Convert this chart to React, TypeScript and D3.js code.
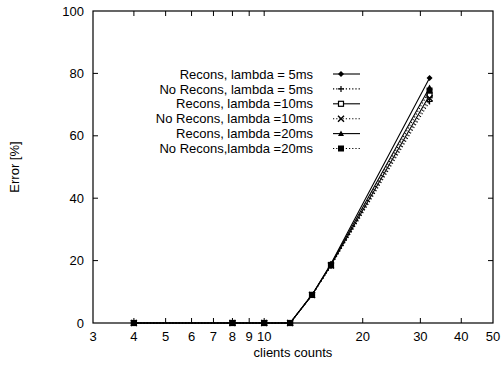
import React, { useRef, useEffect } from "react";
import * as d3 from "d3";

// clients counts (x) shared by every series
const clients = [4, 8, 10, 12, 14, 16, 32];

const seriesNames = [
  "Recons, lambda = 5ms",
  "No Recons, lambda = 5ms",
  "Recons, lambda =10ms",
  "No Recons, lambda =10ms",
  "Recons, lambda =20ms",
  "No Recons,lambda =20ms",
];

const recons5 = [0, 0, 0, 0, 9, 19, 78.5];
const noRecons5 = [0, 0, 0, 0, 9, 18.3, 71];
const recons10 = [0, 0, 0, 0, 9, 18.6, 73];
const noRecons10 = [0, 0, 0, 0, 9, 18.4, 72];
const recons20 = [0, 0, 0, 0, 9, 18.8, 75.5];
const noRecons20 = [0, 0, 0, 0, 9, 18.5, 74.5];

const seriesValues = [recons5, noRecons5, recons10, noRecons10, recons20, noRecons20];
const markers = ["diamond", "plus", "square-open", "cross", "triangle", "square"];
const dotted = [false, true, false, true, false, true];

const xTicks = [3, 4, 5, 6, 7, 8, 9, 10, 20, 30, 40, 50];
const yTicks = [0, 20, 40, 60, 80, 100];

const App: React.FC = () => {
  const svgRef = useRef<SVGSVGElement>(null);

  useEffect(() => {
    const width = 501;
    const height = 366;
    const margin = { top: 11, right: 8, bottom: 43, left: 93 };
    const iw = width - margin.left - margin.right;
    const ih = height - margin.top - margin.bottom;
    const font = "'Liberation Sans', Arial, sans-serif";

    const root = d3.select(svgRef.current);
    root.selectAll("*").remove();
    root.attr("width", width).attr("height", height);
    root.append("rect").attr("width", width).attr("height", height).attr("fill", "#fff");

    const g = root.append("g").attr("transform", `translate(${margin.left},${margin.top})`);

    const x = d3.scaleLog().domain([3, 50]).range([0, iw]);
    const y = d3.scaleLinear().domain([0, 100]).range([ih, 0]);

    // frame
    g.append("rect")
      .attr("width", iw)
      .attr("height", ih)
      .attr("fill", "none")
      .attr("stroke", "#000")
      .attr("stroke-width", 1.2);

    const tickLen = 5;

    // y ticks (mirrored on right)
    yTicks.forEach(t => {
      const yy = y(t);
      if (t !== 0 && t !== 100) {
        g.append("line").attr("x1", 0).attr("x2", tickLen).attr("y1", yy).attr("y2", yy).attr("stroke", "#000");
        g.append("line").attr("x1", iw).attr("x2", iw - tickLen).attr("y1", yy).attr("y2", yy).attr("stroke", "#000");
      }
      g.append("text")
        .attr("x", -9)
        .attr("y", yy)
        .attr("dy", "0.36em")
        .attr("text-anchor", "end")
        .attr("font-family", font)
        .attr("font-size", 13)
        .text(t);
    });

    // x ticks (mirrored on top)
    xTicks.forEach(t => {
      const xx = x(t);
      if (t !== 3 && t !== 50) {
        g.append("line").attr("x1", xx).attr("x2", xx).attr("y1", ih).attr("y2", ih - tickLen).attr("stroke", "#000");
        g.append("line").attr("x1", xx).attr("x2", xx).attr("y1", 0).attr("y2", tickLen).attr("stroke", "#000");
      }
      g.append("text")
        .attr("x", xx)
        .attr("y", ih + 18)
        .attr("text-anchor", "middle")
        .attr("font-family", font)
        .attr("font-size", 13)
        .text(t);
    });

    // axis titles
    g.append("text")
      .attr("x", iw / 2)
      .attr("y", ih + 34)
      .attr("text-anchor", "middle")
      .attr("font-family", font)
      .attr("font-size", 13)
      .text("clients counts");

    root.append("text")
      .attr("transform", `translate(19,${margin.top + ih / 2}) rotate(-90)`)
      .attr("text-anchor", "middle")
      .attr("font-family", font)
      .attr("font-size", 13)
      .text("Error [%]");

    const drawMarker = (sel: d3.Selection<SVGGElement, unknown, null, undefined>, kind: string, cx: number, cy: number) => {
      const s = 3;
      if (kind === "diamond") {
        sel.append("path").attr("d", `M${cx},${cy - s} L${cx + s},${cy} L${cx},${cy + s} L${cx - s},${cy} Z`).attr("fill", "#000");
      } else if (kind === "plus") {
        sel.append("path").attr("d", `M${cx - s},${cy} H${cx + s} M${cx},${cy - s} V${cy + s}`).attr("stroke", "#000").attr("stroke-width", 1.2);
      } else if (kind === "square-open") {
        sel.append("rect").attr("x", cx - s + 0.5).attr("y", cy - s + 0.5).attr("width", 2 * s - 1).attr("height", 2 * s - 1)
          .attr("fill", "#fff").attr("stroke", "#000").attr("stroke-width", 1.2);
      } else if (kind === "cross") {
        sel.append("path").attr("d", `M${cx - s},${cy - s} L${cx + s},${cy + s} M${cx - s},${cy + s} L${cx + s},${cy - s}`)
          .attr("stroke", "#000").attr("stroke-width", 1.4);
      } else if (kind === "triangle") {
        sel.append("path").attr("d", `M${cx},${cy - s} L${cx + s},${cy + s * 0.8} L${cx - s},${cy + s * 0.8} Z`).attr("fill", "#000");
      } else {
        sel.append("rect").attr("x", cx - s).attr("y", cy - s).attr("width", 2 * s).attr("height", 2 * s).attr("fill", "#000");
      }
    };

    const line = d3.line<number>()
      .x((_, i) => x(clients[i]))
      .y(d => y(d));

    // series
    seriesValues.forEach((vals, si) => {
      const sg = g.append("g");
      sg.append("path")
        .attr("d", line(vals) || "")
        .attr("fill", "none")
        .attr("stroke", "#000")
        .attr("stroke-width", 1.1)
        .attr("stroke-dasharray", dotted[si] ? "1.2,2" : null);
      vals.forEach((v, i) => drawMarker(sg, markers[si], x(clients[i]), y(v)));
    });

    // legend
    const legX = 313 - margin.left;
    seriesNames.forEach((name, i) => {
      const ly = 74 - margin.top + i * 14.9;
      const lg = g.append("g");
      lg.append("text")
        .attr("x", legX)
        .attr("y", ly)
        .attr("dy", "0.36em")
        .attr("text-anchor", "end")
        .attr("font-family", font)
        .attr("font-size", 13)
        .text(name);
      const x1 = legX + 20;
      const x2 = legX + 47;
      lg.append("line")
        .attr("x1", x1).attr("x2", x2).attr("y1", ly).attr("y2", ly)
        .attr("stroke", "#000").attr("stroke-width", 1.1)
        .attr("stroke-dasharray", dotted[i] ? "1.2,2" : null);
      drawMarker(lg, markers[i], x1 + 8, ly);
    });
  }, []);

  return <svg ref={svgRef} style={{ display: "block", position: "absolute", left: 0, top: 0 }} />;
};

export default App;
